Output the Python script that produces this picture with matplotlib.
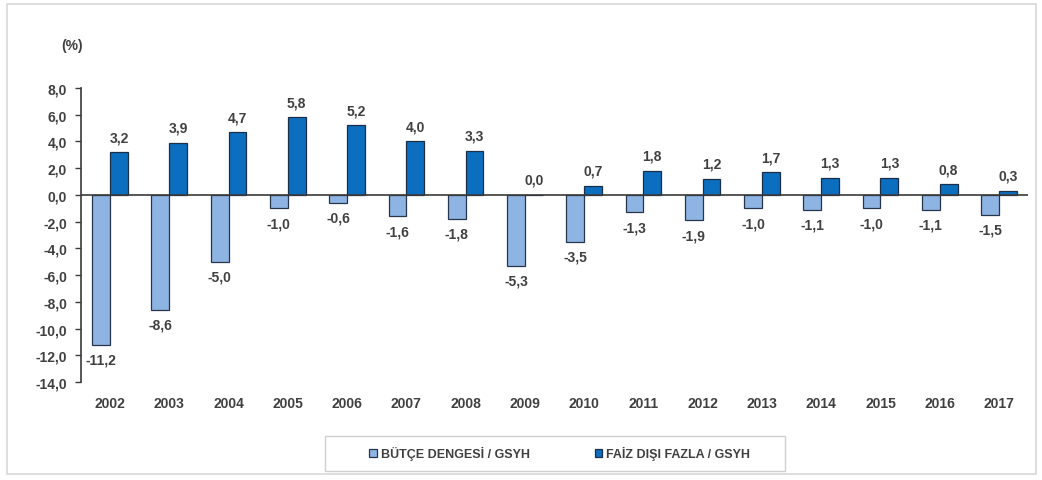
import numpy as np
import matplotlib.pyplot as plt
from matplotlib.patches import Rectangle

years = ["2002", "2003", "2004", "2005", "2006", "2007", "2008", "2009",
         "2010", "2011", "2012", "2013", "2014", "2015", "2016", "2017"]
butce_dengesi = [-11.2, -8.6, -5.0, -1.0, -0.6, -1.6, -1.8, -5.3,
                 -3.5, -1.3, -1.9, -1.0, -1.1, -1.0, -1.1, -1.5]
faiz_disi_fazla = [3.2, 3.9, 4.7, 5.8, 5.2, 4.0, 3.3, 0.0,
                   0.7, 1.8, 1.2, 1.7, 1.3, 1.3, 0.8, 0.3]
y_ticks = [8, 6, 4, 2, 0, -2, -4, -6, -8, -10, -12, -14]

plt.rcParams['font.family'] = ['Liberation Sans', 'DejaVu Sans']
text_color = '#404040'


def fmt(v):
    return f"{v:.1f}".replace(".", ",")


fig = plt.figure(figsize=(10.42, 4.81), dpi=100)
ax = fig.add_axes([0.0777, 0.2037, 0.9089, 0.6113])

x = np.arange(len(years))
w = 0.30
b1 = ax.bar(x - w / 2, butce_dengesi, w, color='#8DB4E2', edgecolor='#26354a',
            linewidth=0.9, label='BÜTÇE DENGESİ / GSYH', zorder=2)
b2 = ax.bar(x + w / 2, faiz_disi_fazla, w, color='#0B6EBE', edgecolor='#1a2e48',
            linewidth=0.9, label='FAİZ DIŞI FAZLA / GSYH', zorder=2)

# value labels: above for positive bars, below for negative ones
for xi, v in zip(x - w / 2, butce_dengesi):
    ax.text(xi, v - 0.6, fmt(v), ha='center', va='top', fontsize=10,
            fontweight='bold', color=text_color)
for xi, v in zip(x + w / 2, faiz_disi_fazla):
    ax.text(xi, v + 0.6, fmt(v), ha='center', va='bottom', fontsize=10,
            fontweight='bold', color=text_color)

ax.axhline(0, color='#3a3a3a', linewidth=1.2, zorder=3)
ax.set_xlim(-0.49, len(years) - 0.51)
ax.set_ylim(-14, 8)
ax.set_yticks(y_ticks)
ax.set_yticklabels([fmt(t) for t in y_ticks])
ax.set_xticks(x)
ax.set_xticklabels(years)
ax.tick_params(axis='x', length=0, pad=10)
ax.tick_params(axis='y', length=4, width=1, color='#3a3a3a', pad=6)
for lab in ax.get_xticklabels() + ax.get_yticklabels():
    lab.set_fontsize(10)
    lab.set_fontweight('bold')
    lab.set_color(text_color)

for side in ['top', 'right', 'bottom']:
    ax.spines[side].set_visible(False)
ax.spines['left'].set_color('#3a3a3a')
ax.spines['left'].set_linewidth(1.2)

fig.text(0.069, 0.905, "(%)", ha='center', va='center', fontsize=10,
         fontweight='bold', color=text_color)

leg = fig.legend(handles=[b1, b2], loc='center', bbox_to_anchor=(0.537, 0.056),
                 ncol=2, frameon=False, fontsize=9,
                 handlelength=0.6, handleheight=0.6, handletextpad=0.3,
                 columnspacing=5.2)
for t in leg.get_texts():
    t.set_fontweight('bold')
    t.set_color(text_color)

# legend box drawn separately so it can be wider than the entries
fig.patches.append(Rectangle((325 / 1042, 1 - 472 / 481), 460 / 1042, 35 / 481,
                             transform=fig.transFigure, fill=False,
                             edgecolor='#d0d0d0', linewidth=1))

# light outer frame around the whole chart
fig.patches.append(Rectangle((0.007, 0.012), 0.987, 0.978, transform=fig.transFigure,
                             fill=False, edgecolor='#d8d8d8', linewidth=1.2))

fig.savefig("out.png", dpi=100)
